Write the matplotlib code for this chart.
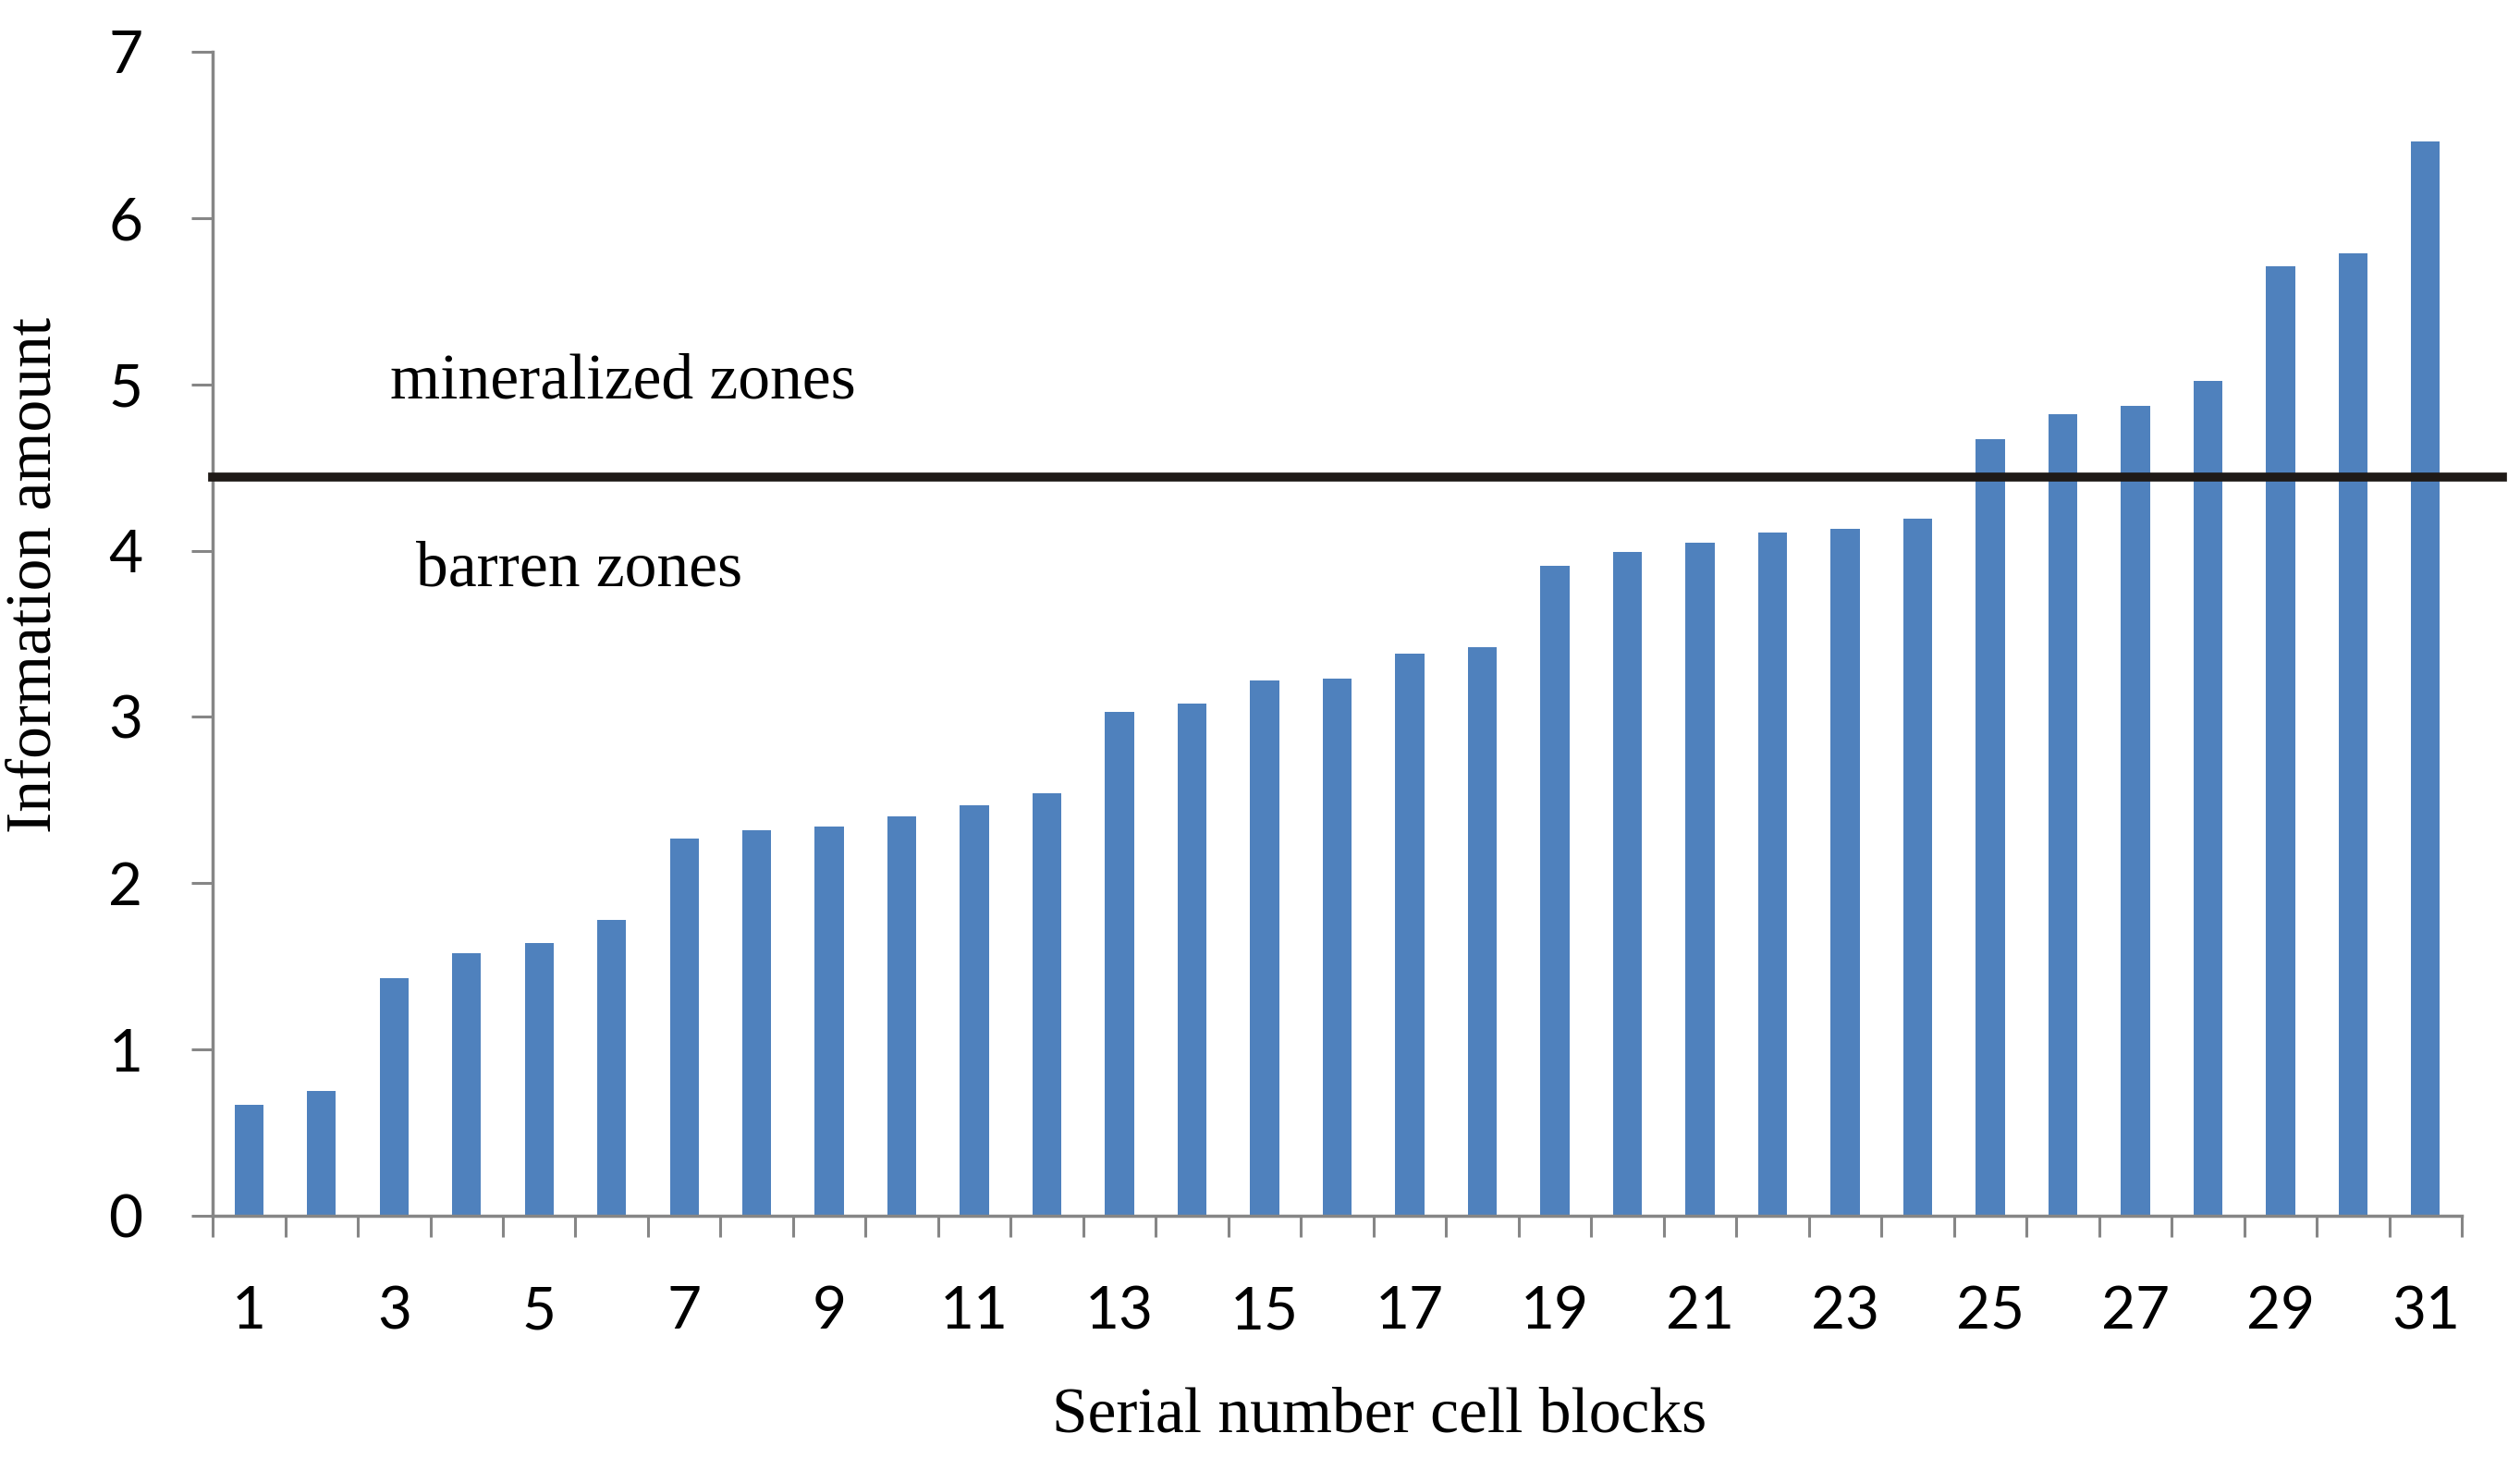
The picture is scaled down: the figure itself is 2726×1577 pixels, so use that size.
import matplotlib.pyplot as plt
from matplotlib.ticker import FixedLocator

# values
blocks = list(range(1, 32))
info = [0.67, 0.75, 1.43, 1.58, 1.64, 1.78, 2.27, 2.32, 2.34, 2.40, 2.47, 2.54,
        3.03, 3.08, 3.22, 3.23, 3.38, 3.42, 3.91, 3.99, 4.05, 4.11, 4.13, 4.19,
        4.67, 4.82, 4.87, 5.02, 5.71, 5.79, 6.46]
threshold = 4.44
xtick_pos = [b for b in blocks if b % 2 == 1]
xtick_labels = [str(b) for b in xtick_pos]
ytick_pos = list(range(0, 8))

axis_grey = '#868686'
bar_blue = '#4F81BD'

fig = plt.figure(figsize=(27.26, 15.77), dpi=100)
ax = fig.add_axes([0.0844, 0.1661, 0.8925, 0.7984])

ax.bar(blocks, info, width=0.4, color=bar_blue)

# threshold between barren and mineralized zones
ax.axhline(threshold, xmin=0, xmax=1.018, color='#1f1a17', lw=7, clip_on=False, zorder=3)

ax.text(2.95, 5.01, 'mineralized zones', family='Liberation Serif', fontsize=50,
        ha='left', va='center')
ax.text(3.30, 3.88, 'barren zones', family='Liberation Serif', fontsize=50,
        ha='left', va='center')

ax.set_xlim(0.5, 31.5)
ax.set_ylim(0, 7)

for s in ['top', 'right']:
    ax.spines[s].set_visible(False)
for s in ['left', 'bottom']:
    ax.spines[s].set_color(axis_grey)
    ax.spines[s].set_linewidth(2.5)

ax.set_yticks(ytick_pos)
ax.set_yticklabels([str(v) for v in ytick_pos], family='Lato', fontsize=46)
ax.tick_params(axis='y', direction='out', length=16.5, width=2.2, color=axis_grey, pad=38)

ax.set_xticks(xtick_pos)
ax.set_xticklabels(xtick_labels, family='Lato', fontsize=46)
ax.tick_params(axis='x', which='major', length=0, pad=54)
ax.xaxis.set_minor_locator(FixedLocator([b - 0.5 for b in blocks] + [31.5]))
ax.tick_params(axis='x', which='minor', direction='out', length=16.5, width=2.2,
               color=axis_grey)

fig.text(38 / 2726, 1 - 622 / 1577, 'Information amount', family='Liberation Serif',
         fontsize=50, rotation=90, ha='center', va='center')
fig.text(1492 / 2726, 1 - 1532 / 1577, 'Serial number cell blocks',
         family='Liberation Serif', fontsize=50, ha='center', va='center')

fig.savefig('out.png', dpi=100)
